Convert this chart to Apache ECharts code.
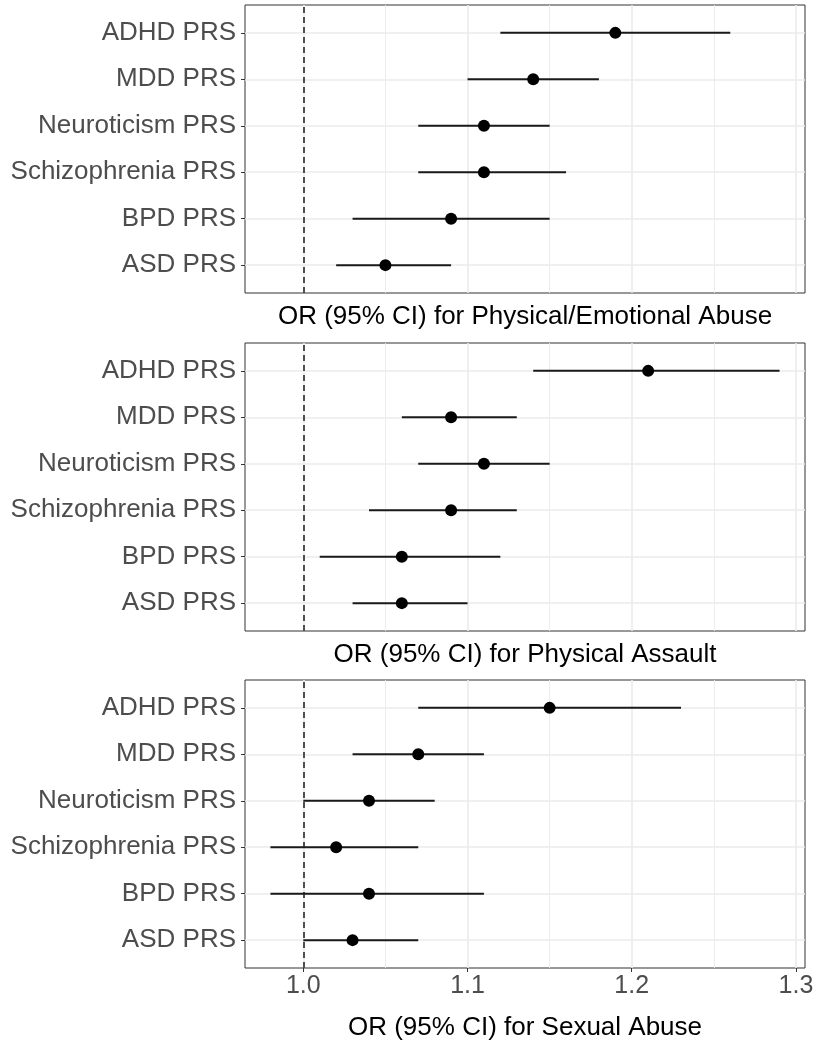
<!DOCTYPE html>
<html><head><meta charset="utf-8">
<script src="https://cdn.jsdelivr.net/npm/echarts@6/dist/echarts.min.js"></script>
<style>html,body{margin:0;padding:0;background:#fff}#c{width:817px;height:1050px}</style>
</head><body><div id="c"></div>
<script>
// Categories (top to bottom)
const categories = ['ADHD PRS', 'MDD PRS', 'Neuroticism PRS', 'Schizophrenia PRS', 'BPD PRS', 'ASD PRS'];
const panelTitles = [
  'OR (95% CI) for Physical/Emotional Abuse',
  'OR (95% CI) for Physical Assault',
  'OR (95% CI) for Sexual Abuse'
];
// Physical/Emotional Abuse
const emoOR   = [1.19, 1.14, 1.11, 1.11, 1.09, 1.05];
const emoLow  = [1.12, 1.10, 1.07, 1.07, 1.03, 1.02];
const emoHigh = [1.26, 1.18, 1.15, 1.16, 1.15, 1.09];
// Physical Assault
const assOR   = [1.21, 1.09, 1.11, 1.09, 1.06, 1.06];
const assLow  = [1.14, 1.06, 1.07, 1.04, 1.01, 1.03];
const assHigh = [1.29, 1.13, 1.15, 1.13, 1.12, 1.10];
// Sexual Abuse
const sexOR   = [1.15, 1.07, 1.04, 1.02, 1.04, 1.03];
const sexLow  = [1.07, 1.03, 1.00, 0.98, 0.98, 1.00];
const sexHigh = [1.23, 1.11, 1.08, 1.07, 1.11, 1.07];

const xTicks = [1.0, 1.1, 1.2, 1.3];
const xMinorGrid = [1.05, 1.15, 1.25];
const referenceOR = 1.0;

const panels = [
  {or: emoOR, lo: emoLow, hi: emoHigh},
  {or: assOR, lo: assLow, hi: assHigh},
  {or: sexOR, lo: sexLow, hi: sexHigh}
];

const allVals = [].concat(emoLow, emoHigh, assLow, assHigh, sexLow, sexHigh);
const dMin = Math.min.apply(null, allVals), dMax = Math.max.apply(null, allVals);
const pad = (dMax - dMin) * 0.05;
const xMin = dMin - pad, xMax = dMax + pad;
const n = categories.length;
const yPos = categories.map((c, i) => n - i);
const yTickVals = yPos.slice().reverse();

const gridTops = [5, 343, 680];
const panelH = 288;
const LABEL_FONT = 'Liberation Sans';
const grids = [], xAxes = [], yAxes = [], series = [];

panels.forEach((p, k) => {
  grids.push({left: 245, width: 560, top: gridTops[k], height: panelH, show: true,
    borderColor: '#333333', borderWidth: 1, backgroundColor: '#ffffff'});
  const isLast = k === panels.length - 1;
  xAxes.push({
    type: 'value', gridIndex: k, min: xMin, max: xMax, position: 'bottom',
    name: panelTitles[k], nameLocation: 'middle', nameGap: isLast ? 47 : 11,
    nameTextStyle: {fontFamily: LABEL_FONT, fontSize: 26, color: '#000', verticalAlign: 'top'},
    axisLine: {show: false},
    axisTick: {show: isLast, customValues: xTicks, length: 4, lineStyle: {color: '#333333'}},
    axisLabel: {show: isLast, customValues: xTicks, margin: 6, fontFamily: LABEL_FONT, fontSize: 25, color: '#4d4d4d',
      formatter: v => v.toFixed(1)},
    splitLine: {show: true, lineStyle: {color: '#ebebeb', width: 1.6}}
  });
  yAxes.push({
    type: 'value', gridIndex: k, min: 0.4, max: n + 0.6,
    axisLine: {show: false},
    axisTick: {show: true, customValues: yTickVals, length: 4, lineStyle: {color: '#333333'}},
    axisLabel: {show: true, customValues: yTickVals, margin: 9, fontFamily: LABEL_FONT, fontSize: 26, color: '#4d4d4d',
      formatter: v => categories[n - Math.round(v)]},
    splitLine: {show: true, lineStyle: {color: '#ebebeb', width: 1.6}}
  });
});
// minor x grid axes
panels.forEach((p, k) => {
  xAxes.push({
    type: 'value', gridIndex: k, min: xMin, max: xMax, position: 'top',
    axisLine: {show: false},
    axisTick: {show: false, customValues: xMinorGrid},
    axisLabel: {show: false},
    splitLine: {show: true, lineStyle: {color: '#ebebeb', width: 0.9}}
  });
});

panels.forEach((p, k) => {
  series.push({
    type: 'custom', xAxisIndex: k, yAxisIndex: k, silent: true, z: 3,
    data: p.or.map((v, i) => [p.lo[i], p.hi[i], yPos[i]]),
    encode: {x: [0, 1], y: 2},
    renderItem: (params, api) => {
      const a = api.coord([api.value(0), api.value(2)]);
      const b = api.coord([api.value(1), api.value(2)]);
      return {type: 'line', shape: {x1: a[0], y1: a[1], x2: b[0], y2: b[1]},
        style: {stroke: '#1a1a1a', lineWidth: 2}};
    }
  });
  series.push({
    type: 'scatter', xAxisIndex: k, yAxisIndex: k, silent: true, z: 4,
    symbol: 'circle', symbolSize: 12, itemStyle: {color: '#000000', opacity: 1},
    data: p.or.map((v, i) => [v, yPos[i]]),
    markLine: {
      silent: true, symbol: 'none', label: {show: false}, z: 2,
      lineStyle: {type: [6, 4], color: '#333333', width: 1.7},
      data: [{xAxis: referenceOR}]
    }
  });
});

const chart = echarts.init(document.getElementById('c'), null, {renderer: 'canvas'});
chart.setOption({animation: false, backgroundColor: '#ffffff', grid: grids, xAxis: xAxes, yAxis: yAxes, series: series});
</script>
</body></html>
